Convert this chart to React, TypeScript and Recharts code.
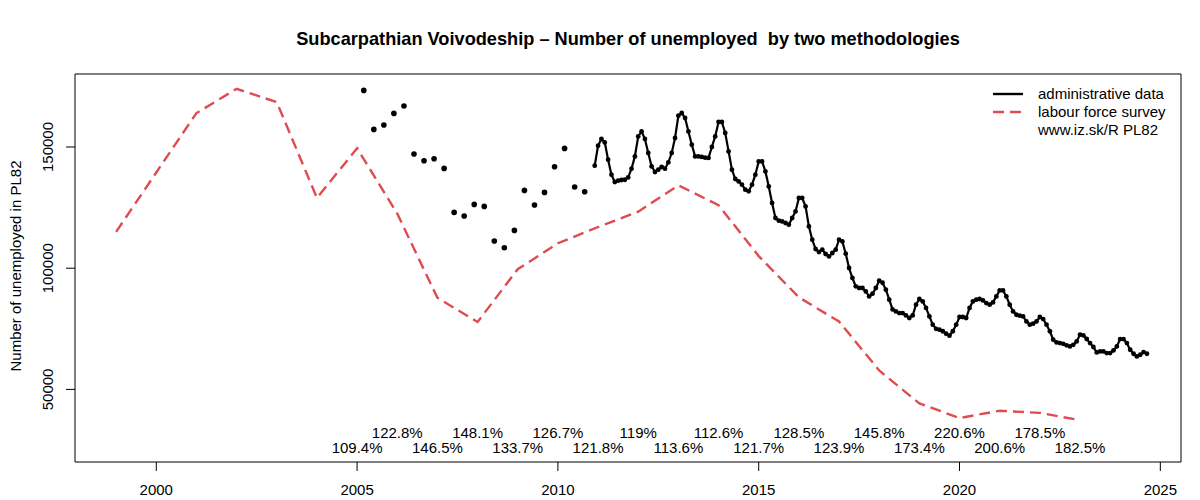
import React from 'react';
import {
    ComposedChart,
    Line,
    Scatter,
    XAxis,
    YAxis,
    ReferenceArea
} from 'recharts';

// labour force survey, yearly
const lfsYears = [1999, 2000, 2001, 2002, 2003, 2004, 2005, 2006, 2007, 2008, 2009, 2010, 2011,
    2012, 2013, 2014, 2015, 2016, 2017, 2018, 2019, 2020, 2021, 2022, 2023];
const lfsValues = [115000, 139500, 164000, 174000, 168500, 129000, 149500, 122500, 87800, 77800,
    99600, 110300, 117000, 123300, 134200, 126000, 105000, 88000, 78000, 57800, 44200, 38200,
    41200, 40300, 37300];

// administrative data, quarterly (Mar, Jun, Sep, Dec) 2005 - Sep 2010
const quarterMonths = [3, 6, 9, 12];
const quarterlyStartYear = 2005;
const adminQuarterly = [
    173350, 157260, 159080, 163870,
    166910, 147110, 144350, 145170,
    141170, 123020, 121530, 126320,
    125490, 111220, 108460, 115600,
    132100, 126070, 131270, 141870,
    149420, 133500, 131560
];

// administrative data, monthly from Dec 2010
const monthlyStart = { year: 2010, month: 12 };
const adminMonthly = [
    142300,
    150540, 153300, 151900, 144760, 138570, 135560, 136100, 136380, 136500, 137460, 141050, 146120,
    154370, 156440, 153300, 147520, 142000, 139690, 140640, 141750, 141050, 143650, 147520, 153710,
    162910, 164030, 161960, 156440, 150950, 146120, 146100, 145900, 145600, 145500, 150000, 154370,
    160310, 160310, 155780, 148190, 140640, 136800, 135810, 134450, 132380, 131700, 134450, 138570,
    144060, 144060, 139930, 133750, 126900, 120710, 119600, 119300, 118650, 117960, 120710, 123430,
    128960, 128960, 125490, 117240, 111760, 107920, 106680, 107630, 105860, 104870, 106270, 107630,
    111760, 111060, 105980, 100080, 95960, 92510, 91830, 91830, 90430, 88370, 89480, 91830,
    94840, 94000, 91130, 87000, 83000, 82180, 81500, 81500, 80500, 79460, 80500, 84940,
    87290, 86300, 83600, 80120, 76690, 75000, 74630, 74000, 73000, 72150, 74000, 76690,
    79870, 79870, 79460, 83600, 86300, 87000, 87290, 86700, 85600, 84940, 85900, 88370,
    90850, 90850, 88370, 84940, 82180, 80800, 80400, 80120, 78060, 76690, 77100, 78060,
    79870, 79000, 76690, 74000, 70500, 69400, 69100, 68800, 68200, 67740, 68400, 69800,
    72560, 72300, 70800, 69100, 67500, 65250, 65660, 65660, 64980, 64980, 66080, 67740,
    70760, 70760, 69100, 66350, 64700, 63610, 64290, 65400, 64700
];

// admin / LFS ratio labels
const ratioYears = [2005, 2006, 2007, 2008, 2009, 2010, 2011, 2012, 2013, 2014, 2015, 2016,
    2017, 2018, 2019, 2020, 2021, 2022, 2023];
const ratioLabels = ['109.4%', '122.8%', '146.5%', '148.1%', '133.7%', '126.7%', '121.8%', '119%',
    '113.6%', '112.6%', '121.7%', '128.5%', '123.9%', '145.8%', '173.4%', '220.6%', '200.6%',
    '178.5%', '182.5%'];

const xTicks = [2000, 2005, 2010, 2015, 2020, 2025];
const yTicks = [50000, 100000, 150000];

const X_DOMAIN: [number, number] = [1997.976, 2025.515];
const Y_DOMAIN: [number, number] = [20050, 180120];
const RATIO_ROW_UPPER = 32100;
const RATIO_ROW_LOWER = 26100;

const FONT = '"Liberation Sans", Arial, Helvetica, sans-serif';
const RED = '#DF4C4F';
const DASH = '11 6';

const lfsData = lfsYears.map((year, i) => ({ x: year, y: lfsValues[i] }));
const quarterlyData = adminQuarterly.map((v, i) => ({
    x: quarterlyStartYear + Math.floor(i / 4) + (quarterMonths[i % 4] - 1) / 12,
    y: v
}));
const monthlyData = adminMonthly.map((v, i) => {
    const m = monthlyStart.month - 1 + i;
    return { x: monthlyStart.year + Math.floor(m / 12) + (m % 12) / 12, y: v };
});
const ratioData = ratioYears.map((year, i) => ({
    x: year,
    y: year % 2 === 0 ? RATIO_ROW_UPPER : RATIO_ROW_LOWER,
    label: ratioLabels[i]
}));

const legendRows = [
    { text: 'administrative data', stroke: '#000', dash: undefined },
    { text: 'labour force survey', stroke: RED, dash: DASH },
    { text: 'www.iz.sk/R PL82', stroke: 'none', dash: undefined }
];

// eslint-disable-next-line @typescript-eslint/no-explicit-any
const YTick = (props: any) => {
    const { x, y, payload } = props;
    const bx = x - 11;
    return (
        <text x={bx} y={y} transform={`rotate(-90 ${bx} ${y})`} textAnchor="middle"
            fontSize={15} fontFamily={FONT} fill="#000">
            {payload.value}
        </text>
    );
};

// eslint-disable-next-line @typescript-eslint/no-explicit-any
const XTick = (props: any) => {
    const { x, y, payload } = props;
    return (
        <text x={x} y={y + 22} textAnchor="middle" fontSize={15} fontFamily={FONT} fill="#000">
            {payload.value}
        </text>
    );
};

// eslint-disable-next-line @typescript-eslint/no-explicit-any
const RatioText = (props: any) => {
    const { cx, cy, payload } = props;
    return (
        <text x={cx} y={cy} textAnchor="middle" dominantBaseline="central"
            fontSize={15} fontFamily={FONT} fill="#000">
            {payload.label}
        </text>
    );
};

// eslint-disable-next-line @typescript-eslint/no-explicit-any
const Dot = (props: any) => <circle cx={props.cx} cy={props.cy} r={2.8} fill="#000" />;

export default function App() {
    return (
        <div style={{ position: 'absolute', left: 0, top: 0, width: 1200, height: 500, background: '#fff' }}>
            <div style={{
                position: 'absolute', left: 128, top: 28, width: 1000, textAlign: 'center',
                fontFamily: FONT, fontWeight: 'bold', fontSize: 18.2, lineHeight: '22px'
            }}>
                Subcarpathian Voivodeship – Number of unemployed&nbsp; by two methodologies
            </div>
            <ComposedChart width={1200} height={500} margin={{ top: 74, right: 19, left: 0, bottom: 0 }}>
                <XAxis dataKey="x" type="number" domain={X_DOMAIN} ticks={xTicks} allowDataOverflow
                    height={38} axisLine={false} tickSize={9} tickLine={{ stroke: '#000' }}
                    tick={<XTick />} interval={0} />
                <YAxis dataKey="y" type="number" domain={Y_DOMAIN} ticks={yTicks} allowDataOverflow
                    width={75} axisLine={false} tickSize={9} tickLine={{ stroke: '#000' }}
                    tick={<YTick />} interval={0}
                    label={{
                        content: () => (
                            <text x={21} y={266} transform="rotate(-90 21 266)" textAnchor="middle"
                                fontSize={15} fontFamily={FONT} fill="#000">
                                Number of unemployed in PL82
                            </text>
                        )
                    }} />
                <ReferenceArea x1={X_DOMAIN[0]} x2={X_DOMAIN[1]} y1={Y_DOMAIN[0]} y2={Y_DOMAIN[1]}
                    fill="none" stroke="#000" strokeWidth={1} ifOverflow="visible" />
                <Line data={lfsData} dataKey="y" stroke={RED} strokeWidth={2.4} strokeDasharray={DASH}
                    dot={false} isAnimationActive={false} />
                <Scatter data={quarterlyData} dataKey="y" shape={<Dot />} isAnimationActive={false} />
                <Line data={monthlyData} dataKey="y" stroke="#000" strokeWidth={2.2}
                    dot={{ r: 2.4, fill: '#000', stroke: 'none' }} isAnimationActive={false} />
                <Scatter data={ratioData} dataKey="y" shape={<RatioText />} isAnimationActive={false} />
            </ComposedChart>
            <div style={{
                position: 'absolute', left: 990, top: 85, fontFamily: FONT, fontSize: 15,
                lineHeight: '18px', color: '#000'
            }}>
                {legendRows.map((row) => (
                    <div key={row.text} style={{ display: 'flex', alignItems: 'center', height: 18 }}>
                        <svg width={48} height={18}>
                            {row.stroke !== 'none' && (
                                <line x1={3} x2={33} y1={9} y2={9} stroke={row.stroke}
                                    strokeWidth={2.4} strokeDasharray={row.dash} />
                            )}
                        </svg>
                        <span>{row.text}</span>
                    </div>
                ))}
            </div>
        </div>
    );
}
